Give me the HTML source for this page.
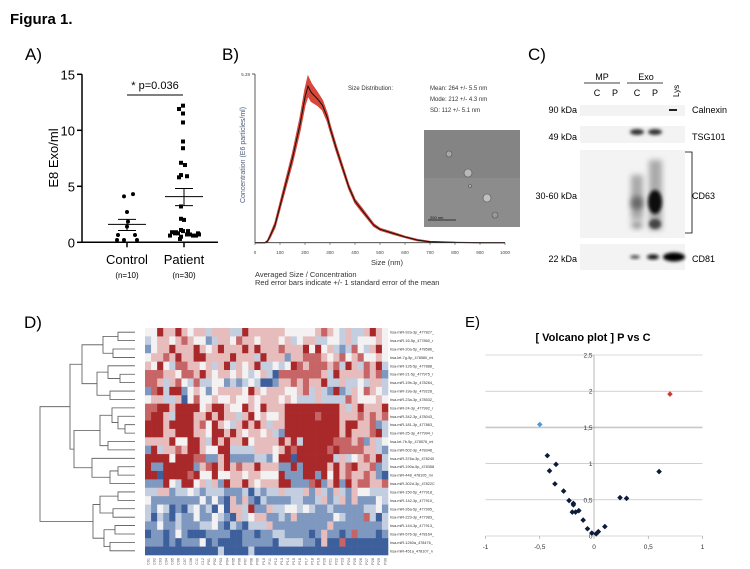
<!DOCTYPE html>
<html><head><meta charset="utf-8">
<style>
html,body{margin:0;padding:0;background:#fff;}
svg{display:block;font-family:"Liberation Sans",sans-serif;}
</style></head>
<body>
<svg id="fig" width="750" height="569" viewBox="0 0 750 569" xmlns="http://www.w3.org/2000/svg">
<text x="10" y="24" font-size="15" font-weight="bold">Figura 1.</text>
<g id="pA"></g>
<g id="pB"></g>
<g id="pC"></g>
<g id="pD"></g>
<g id="pE"></g>
</svg>
<script>
// ---------- Panel A data ----------
const aTicks = [0,5,10,15];
const controlValues = [4.3,4.1,2.7,1.85,1.4,0.65,0.65,0.2,0.2,0.2];
const controlJitter = [6,-3,0,1,0,-9,8,-10,-3,10];
const controlMean = 1.6, controlSemHi = 2.05, controlSemLo = 1.05;
const patientValues = [12.2,11.9,11.5,10.7,9.0,8.4,7.1,6.9,6.0,5.8,5.9,3.2,2.1,2.0,1.1,1.0,0.9,0.8,0.8,0.7,0.7,0.6,0.6,0.8,0.9,1.0,0.5,0.3,0.7,0.6];
const patientJitter = [-1,-5,-1,-1,-1,-1,-3,1,-3,-5,3,-3,-3,0,-3,-1,-12,-9,-6,3,6,9,12,14,-8,4,-3,-4,15,-14];
const patientMean = 4.08, patientSemHi = 4.8, patientSemLo = 3.27;
// ---------- Panel B data ----------
const bSizes = [0,40,50,60,80,100,120,150,180,200,212,225,250,270,290,300,325,350,375,400,425,450,475,500,550,600,650,700,800,900,1000];
const bConc  = [0,0,0.05,0.2,0.55,1.15,1.75,2.65,3.7,4.55,4.9,4.7,4.5,4.3,3.9,3.6,2.95,2.35,1.75,1.3,1.05,0.8,0.55,0.42,0.3,0.18,0.08,0.03,0.01,0,0];
const bErr   = [0,0,0.02,0.05,0.08,0.1,0.12,0.15,0.2,0.25,0.3,0.28,0.2,0.15,0.12,0.1,0.09,0.08,0.07,0.06,0.06,0.05,0.04,0.03,0.03,0.02,0.02,0.01,0,0,0];
const bXTicks = [0,100,200,300,400,500,600,700,800,900,1000];
// ---------- Panel D data ----------
const dRowLabels = ["hsa-miR-92a-3p_477827_","hsa-miR-16-5p_477860_r","hsa-miR-20a-5p_478586_","hsa-let-7g-5p_478580_mi","hsa-miR-126-5p_477888_","hsa-miR-21-5p_477975_r","hsa-miR-19b-3p_478264_","hsa-miR-19a-3p_479228_","hsa-miR-23a-3p_478532_","hsa-miR-24-3p_477992_r","hsa-miR-342-3p_478043_","hsa-miR-181-3p_477863_","hsa-miR-25-3p_477994_r","hsa-let-7b-5p_478576_mi","hsa-miR-502-3p_478348_","hsa-miR-376a-3p_478240","hsa-miR-190a-5p_478358","hsa-miR-448_478105_mi","hsa-miR-302d-3p_47822C","hsa-miR-150-5p_477918_","hsa-miR-142-3p_477910_","hsa-miR-26a-5p_477995_","hsa-miR-223-3p_477983_","hsa-miR-144-3p_477913_","hsa-miR-576-3p_478164_","hsa-miR-1260a_478476_","hsa-miR-451a_478107_n"];
const dColLabels = ["C01","C02","C03","C04","C05","C06","C07","C08","C11","C12","P01","P02","P03","P04","P05","P06","P07","P08","P09","P10","P11","P12","P13","P14","P15","P16","P17","P18","P19","P20","P21","P22","P23","P24","P25","P26","P27","P28","P29","P30"];
const dMatrix = [
"wwRppRpwpplpppllRppppppwwwwwprpwlpllpRpw",
"lwppwprpwwblppwrppwpppwplwppllwwlplwwwpw",
"bwppRpppRpwpRpppRpRppprpppRwRwplblrwlpRw",
"wpprpRppRRppppRppplRpppbpprrrpwprwprwwpw",
"pwRwlrrppwplpRlpwpRllwlwRrprrrprlRplrpRl",
"rrrppwrrpRpwppwpwlwplBrrrrrrrplRpppprprb",
"rrplprwlrllwwblblwlBBbpprprppRllpllwlppl",
"brRlRRbwpwbwppppwRpwpppwwprlplbRblpwrpwl",
"wppllpBwrwwpwwpwwpwpppwpwlllpllllrpwwwpw",
"rrRRpRRRRwpRRpwwRpwRpppRRRRRRRRRplpRpppR",
"rRRplRRRppRpRpplpRwpwwpRRRRRrRRRppprprpr",
"RRRpRRRRprwRpwlpRpRplppRRRRRRRRRpRRpprbl",
"RRRppRRRppwRRpRpwppwplbRRRRRRRRRpRppprRl",
"ppppRwwRRplRpRppRwppppRpRlRRRRRrrrprbpl",
"bRlpprpRRpwwRRllllpppwpRrRRRRRrRrrrrpplb",
"RRRRwRRRrrbbpRbbbbllbwRRBRRRRRRlplwprpRl",
"RbbRRRRRbprRpRprppRpppbbRbRRRRpRprRpprbl",
"RRBRRRRrRwwRwwppwppwwwRbbbRRbRwRprpprpbB",
"bbbRwlRRwplpbRppRpwpppRRbbbrRbpRbRprrppr",
"llppbllwlblllbbblBlbllplllpbplbplbpwwlll",
"wbbbbbbbbwbwbBpbpbBlbbbbllbblpblpbpbbbwl",
"lbwlBbBlwblBwBpplRbbpllwwlwlbblbbbbbllwb",
"lBlbBlbbwbbwlbBplwppbblbpbbbbbbwlbbbrlBl",
"bbwbblbbbllwbBlbBlllpbbbbbbbbbpbbbbbbbbl",
"BbbBbwbBBBbbbbBBbbBbbllbbbbBbpbbBbrbbbBb",
"bbbBbBbbbwBbBBBBbbbbbBllllbbBpBBrBBBBBBB",
"BBBBBBBBBBBBlBBBBlBBBBBBBBBBBBBBBBBBBBBB"];
const dTree = [[[[[0,1,118],[2,3,113],103],[[4,[5,6,120],108],[7,8,110],97],82],[[[9,[10,[11,12,125],118],112],[13,14,108],100],[15,[[16,17,118],18,110],92],74],70],[[[19,20,118],[21,22,113],100],[[23,24,115],[25,26,110],104],93],40];
// ---------- Panel E data ----------
const eXTicks = [-1,-0.5,0,0.5,1];
const eYTicks = [0,0.5,1,1.5,2,2.5];
const eFold = [-0.43,-0.41,-0.35,-0.36,-0.28,-0.23,-0.19,-0.19,-0.20,-0.17,-0.14,-0.10,-0.06,-0.02,0.02,0.04,0.10,0.24,0.30,0.60];
const ePval = [1.11,0.90,0.99,0.72,0.62,0.49,0.45,0.43,0.33,0.33,0.35,0.22,0.10,0.04,0.03,0.06,0.13,0.53,0.52,0.89];
const eUpFold = [0.70], eUpPval = [1.96];
const eDownFold = [-0.50], eDownPval = [1.54];

const NS="http://www.w3.org/2000/svg";
function mk(parent,tag,attrs,text){const e=document.createElementNS(NS,tag);for(const k in attrs)e.setAttribute(k,attrs[k]);if(text!==undefined)e.textContent=text;parent.appendChild(e);return e;}

// ================= Panel A =================
(function(){
const g=document.getElementById('pA');
const yA=v=>242.3-v*11.2;
const cx=127, px=184;
let e;
e=mk(g,'text',{x:25,y:60,'font-size':17},'A)');


e=mk(g,'line',{x1:82,y1:yA(15),x2:82,y2:yA(0),stroke:'#000','stroke-width':1.5});


e=mk(g,'line',{x1:82,y1:yA(0),x2:218,y2:yA(0),stroke:'#000','stroke-width':1.5});


aTicks.forEach(t=>{
 mk(g,'line',{x1:77,y1:yA(t),x2:82,y2:yA(t),stroke:'#000','stroke-width':1.5});
 e=mk(g,'text',{x:75,y:yA(t)+5,'font-size':13,'text-anchor':'end'},String(t));
 
 
});
[cx,px].forEach(x=>mk(g,'line',{x1:x,y1:yA(0),x2:x,y2:yA(0)+5,stroke:'#000','stroke-width':1.5}));
e=mk(g,'text',{x:0,y:0,'font-size':13,'text-anchor':'middle',transform:'translate(58,158) rotate(-90)'},'E8 Exo/ml');


e=mk(g,'text',{x:cx,y:264,'font-size':13,'text-anchor':'middle'},'Control');


e=mk(g,'text',{x:px,y:264,'font-size':13,'text-anchor':'middle'},'Patient');


e=mk(g,'text',{x:cx,y:278,'font-size':8,'text-anchor':'middle'},'(n=10)');


e=mk(g,'text',{x:px,y:278,'font-size':8,'text-anchor':'middle'},'(n=30)');


e=mk(g,'line',{x1:127,y1:95,x2:183,y2:95,stroke:'#000','stroke-width':1});


e=mk(g,'text',{x:155,y:89,'font-size':11,'text-anchor':'middle'},'* p=0.036');


controlValues.forEach((v,i)=>{
 e=mk(g,'circle',{cx:cx+controlJitter[i],cy:yA(v),r:2,fill:'#000'});
 
 
});
patientValues.forEach((v,i)=>{
 e=mk(g,'rect',{x:px+patientJitter[i]-2,y:yA(v)-2,width:4,height:4,fill:'#000'});
 
 
});
function meanSem(x,m,hi,lo,name){
 e=mk(g,'line',{x1:x-19,y1:yA(m),x2:x+19,y2:yA(m),stroke:'#000','stroke-width':1});
 
 
 mk(g,'line',{x1:x,y1:yA(hi),x2:x,y2:yA(lo),stroke:'#000','stroke-width':1});
 mk(g,'line',{x1:x-9,y1:yA(hi),x2:x+9,y2:yA(hi),stroke:'#000','stroke-width':1});
 mk(g,'line',{x1:x-9,y1:yA(lo),x2:x+9,y2:yA(lo),stroke:'#000','stroke-width':1});
}
meanSem(cx,controlMean,controlSemHi,controlSemLo,'a-control');
meanSem(px,patientMean,patientSemHi,patientSemLo,'a-patient');
})();

// ================= Panel B =================
(function(){
const g=document.getElementById('pB');
const xB=s=>255+s*0.25, yB=c=>242.7-c/5.28*168.7;
let e;
e=mk(g,'text',{x:222,y:60,'font-size':17},'B)');


let up='',dn='';
bSizes.forEach((s,i)=>{up+=(i?'L':'M')+xB(s)+','+yB(bConc[i]+bErr[i]);});
for(let i=bSizes.length-1;i>=0;i--){dn+='L'+xB(bSizes[i])+','+yB(Math.max(0,bConc[i]-bErr[i]));}
e=mk(g,'path',{d:up+dn+'Z',fill:'#d9473a',stroke:'#d9473a','stroke-width':1.2});


let ln='';bSizes.forEach((s,i)=>{ln+=(i?'L':'M')+xB(s)+','+yB(bConc[i]);});
e=mk(g,'path',{d:ln,fill:'none',stroke:'#111','stroke-width':1});


mk(g,'line',{x1:255,y1:yB(0),x2:505,y2:yB(0),stroke:'#333','stroke-width':0.8});
mk(g,'line',{x1:255,y1:yB(5.28),x2:255,y2:yB(0),stroke:'#333','stroke-width':0.8});
mk(g,'line',{x1:252,y1:yB(5.28),x2:255,y2:yB(5.28),stroke:'#333','stroke-width':0.8});
e=mk(g,'text',{x:250,y:yB(5.28)+2,'font-size':4.5,'text-anchor':'end',fill:'#444'},'5.28');


bXTicks.forEach(t=>{
 mk(g,'line',{x1:xB(t),y1:yB(0),x2:xB(t),y2:yB(0)+2,stroke:'#333','stroke-width':0.6});
 e=mk(g,'text',{x:xB(t),y:254,'font-size':4.5,'text-anchor':'middle',fill:'#444'},String(t));
 
 
});
e=mk(g,'text',{x:387,y:265,'font-size':7.5,'text-anchor':'middle',fill:'#333'},'Size (nm)');


e=mk(g,'text',{x:0,y:0,'font-size':7,'text-anchor':'middle',fill:'#4a5a7a',transform:'translate(245,155) rotate(-90)'},'Concentration (E6 particles/ml)');


e=mk(g,'text',{x:348,y:90,'font-size':6,fill:'#333'},'Size Distribution:');


['Mean: 264 +/- 5.5 nm','Mode: 212 +/- 4.3 nm','SD:   112 +/- 5.1 nm'].forEach((t,i)=>{
 e=mk(g,'text',{x:430,y:90+i*11,'font-size':6,fill:'#333','xml:space':'preserve'},t);
 
 
});
e=mk(g,'rect',{x:424,y:130,width:96,height:97,fill:'#8c8c8c'});


mk(g,'rect',{x:424,y:130,width:96,height:48,fill:'#7c7c7c',opacity:0.5});
[[468,173,4,'#b8b8b8'],[487,198,4,'#c0c0c0'],[449,154,3,'#a8a8a8'],[470,186,1.5,'#aaa'],[495,215,3,'#999']].forEach(c=>mk(g,'circle',{cx:c[0],cy:c[1],r:c[2],fill:c[3],stroke:'#555','stroke-width':0.6}));
mk(g,'line',{x1:428,y1:220,x2:456,y2:220,stroke:'#111','stroke-width':0.8});
e=mk(g,'text',{x:430,y:219,'font-size':4,fill:'#111'},'200 nm');


e=mk(g,'text',{x:255,y:277,'font-size':7.5,fill:'#333'},'Averaged Size / Concentration');


e=mk(g,'text',{x:255,y:285,'font-size':7.5,fill:'#333'},'Red error bars indicate +/- 1 standard error of the mean');


})();

// ================= Panel C =================
(function(){
const g=document.getElementById('pC');
let e;
e=mk(g,'text',{x:528,y:60,'font-size':17},'C)');


const defs=mk(g,'defs',{});
const f=mk(defs,'filter',{id:'bl',x:'-50%',y:'-50%',width:'200%',height:'200%'});mk(f,'feGaussianBlur',{stdDeviation:1.6});
const f2=mk(defs,'filter',{id:'bl2',x:'-50%',y:'-50%',width:'200%',height:'200%'});mk(f2,'feGaussianBlur',{stdDeviation:3});
[['MP',602,584,620],['Exo',646,627,663]].forEach(a=>{
 e=mk(g,'text',{x:a[1],y:80,'font-size':9,'text-anchor':'middle'},a[0]);
 
 
 mk(g,'line',{x1:a[2],y1:83,x2:a[3],y2:83,stroke:'#000','stroke-width':0.8});
});
[['C',597],['P',615],['C',637],['P',655]].forEach(a=>{
 e=mk(g,'text',{x:a[1],y:96,'font-size':9,'text-anchor':'middle'},a[0]);
 
 
});
e=mk(g,'text',{x:0,y:0,'font-size':8,transform:'translate(679,97) rotate(-90)'},'Lys');


const blots=[['Calnexin','90 kDa',105,116,110],['TSG101','49 kDa',126,143,137],['CD63','30-60 kDa',150,238,196],['CD81','22 kDa',244,270,259]];
blots.forEach(b=>{
 e=mk(g,'rect',{x:580,y:b[2],width:105,height:b[3]-b[2],fill:'#f3f3f3'});
 
 
 e=mk(g,'text',{x:577,y:b[4]+3,'font-size':9,'text-anchor':'end'},b[1]);
 
 
 e=mk(g,'text',{x:692,y:b[4]+3,'font-size':9},b[0]);
 
 
});
mk(g,'rect',{x:669,y:109,width:8,height:2,fill:'#222'});
mk(g,'ellipse',{cx:637,cy:132,rx:7,ry:3,fill:'#333',filter:'url(#bl)'});
mk(g,'ellipse',{cx:655,cy:132,rx:7,ry:3,fill:'#333',filter:'url(#bl)'});
mk(g,'rect',{x:631,y:175,width:12,height:45,fill:'#aaa',filter:'url(#bl2)'});
mk(g,'ellipse',{cx:637,cy:203,rx:6,ry:7,fill:'#666',filter:'url(#bl2)'});
mk(g,'ellipse',{cx:637,cy:225,rx:6,ry:4,fill:'#999',filter:'url(#bl2)'});
mk(g,'rect',{x:649,y:160,width:13,height:70,fill:'#aaa',filter:'url(#bl2)'});
mk(g,'ellipse',{cx:655,cy:202,rx:7,ry:12,fill:'#111',filter:'url(#bl)'});
mk(g,'ellipse',{cx:655,cy:224,rx:6,ry:5,fill:'#444',filter:'url(#bl)'});
mk(g,'ellipse',{cx:635,cy:257,rx:5,ry:1.8,fill:'#444',filter:'url(#bl)'});
mk(g,'ellipse',{cx:653,cy:257,rx:6,ry:2.5,fill:'#111',filter:'url(#bl)'});
mk(g,'ellipse',{cx:674,cy:257,rx:11,ry:4.5,fill:'#000',filter:'url(#bl)'});
e=mk(g,'path',{d:'M685,152 L692,152 L692,233 L685,233',fill:'none',stroke:'#000','stroke-width':0.8});


})();

// ================= Panel D =================
(function(){
const g=document.getElementById('pD');
let e;
e=mk(g,'text',{x:24,y:328,'font-size':17},'D)');


const x0=145,x1=388,y0=328,y1=555;
const nC=dColLabels.length,nR=dRowLabels.length;
const cw=(x1-x0)/nC, rh=(y1-y0)/nR;
const col={R:'#a9282a',r:'#c76466',p:'#e6bcbc',w:'#f3f1f1',l:'#c3cfe0',b:'#7e98c0',B:'#3d5f9c'};
dMatrix.forEach((row,ri)=>{
 for(let ci=0;ci<nC;ci++){
  const ch=row[ci]||'w';
  e=mk(g,'rect',{x:x0+ci*cw,y:y0+ri*rh,width:cw+0.3,height:rh+0.3,fill:col[ch]});
  
  
 }
});
dRowLabels.forEach((t,ri)=>{
 e=mk(g,'text',{x:390,y:y0+(ri+0.5)*rh+1.5,'font-size':3.8,fill:'#333'},t);
 
 
});
dColLabels.forEach((t,ci)=>{
 const cx=x0+(ci+0.5)*cw;
 e=mk(g,'text',{x:0,y:0,'font-size':3.8,fill:'#555',transform:'translate('+(cx+1.3)+',558) rotate(-90)','text-anchor':'end'},t);
 
 
});
const leafX=135;
function draw(n){
 if(typeof n==='number'){const y=y0+(n+0.5)*rh;return {x:leafX,y};}
 const a=draw(n[0]),b=draw(n[1]),h=n[2];
 e=mk(g,'path',{d:'M'+a.x+','+a.y+'H'+h+'V'+b.y+'H'+b.x,fill:'none',stroke:'#555','stroke-width':0.8});
 
 
 return {x:h,y:(a.y+b.y)/2};
}
draw(dTree);
})();

// ================= Panel E =================
(function(){
const g=document.getElementById('pE');
const xE=v=>594+v*108.5, yE=v=>536-v*72.4;
let e;
e=mk(g,'text',{x:465,y:327,'font-size':15},'E)');


e=mk(g,'text',{x:593,y:341,'font-size':11,'font-weight':'bold','text-anchor':'middle'},'[ Volcano plot ] P vs C');


eYTicks.forEach(t=>{
 e=mk(g,'line',{x1:xE(-1),y1:yE(t),x2:xE(1),y2:yE(t),stroke:t===1.5?'#c8c8c8':'#b5b5b5','stroke-width':t===1.5?1.6:0.6});
 
 
 e=mk(g,'text',{x:xE(0)-1.5,y:yE(t)+2.5,'font-size':6.5,'text-anchor':'end',fill:'#333'},String(t).replace('.',','));
 
 
});
e=mk(g,'line',{x1:xE(0),y1:yE(2.5),x2:xE(0),y2:yE(0),stroke:'#999','stroke-width':0.7});


eXTicks.forEach(t=>{
 mk(g,'line',{x1:xE(t),y1:yE(0),x2:xE(t),y2:yE(0)+3,stroke:'#999','stroke-width':0.6});
 e=mk(g,'text',{x:xE(t),y:549,'font-size':6.5,'text-anchor':'middle',fill:'#333'},String(t).replace('.',','));
 
 
});
function dia(x,y,c,name){
 e=mk(g,'path',{d:'M'+x+','+(y-2.8)+'L'+(x+2.8)+','+y+'L'+x+','+(y+2.8)+'L'+(x-2.8)+','+y+'Z',fill:c});
 
 
}
eFold.forEach((v,i)=>dia(xE(v),yE(ePval[i]),'#0e1a3a','e-point'));
eUpFold.forEach((v,i)=>dia(xE(v),yE(eUpPval[i]),'#d23a35','e-point-up'));
eDownFold.forEach((v,i)=>dia(xE(v),yE(eDownPval[i]),'#4a9ae0','e-point-down'));
})();
</script>
</body></html>
